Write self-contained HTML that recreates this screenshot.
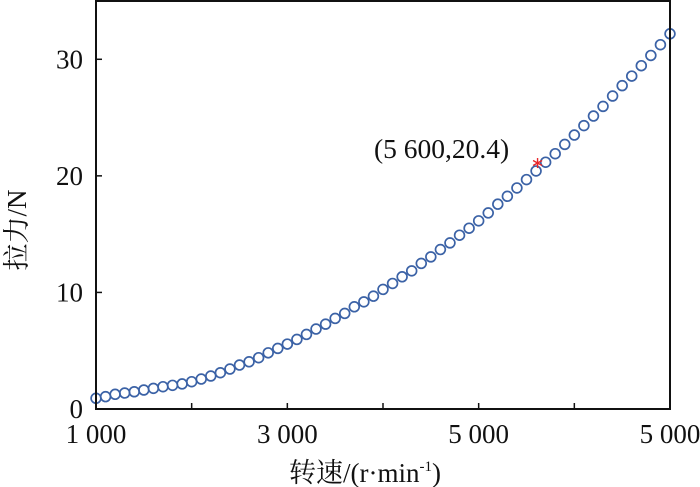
<!DOCTYPE html>
<html><head><meta charset="utf-8"><style>
body{margin:0;background:#fff}
svg{display:block}
text{font-family:"Liberation Serif","Noto Serif CJK SC",serif;fill:#111}
</style></head><body>
<svg id="chart" width="700" height="487" viewBox="0 0 700 487" xmlns="http://www.w3.org/2000/svg">
<g id="ticks"></g>
<g id="marks"></g>
<rect x="96" y="1" width="574" height="408" fill="none" stroke="#111" stroke-width="2"/>
<text x="374" y="158" font-size="27.5">(5 600,20.4)</text>
<text x="365" y="482" font-size="27" text-anchor="middle">转速/(r·min<tspan font-size="15" dy="-11">-1</tspan><tspan dy="11">)</tspan></text>
<text transform="translate(26,230) rotate(-90)" font-size="27" text-anchor="middle">拉力/N</text>
</svg>
<script>
const speeds=[1000,1100,1200,1300,1400,1500,1600,1700,1800,1900,2000,2100,2200,2300,2400,2500,2600,2700,2800,2900,3000,3100,3200,3300,3400,3500,3600,3700,3800,3900,4000,4100,4200,4300,4400,4500,4600,4700,4800,4900,5000,5100,5200,5300,5400,5500,5600,5700,5800,5900,6000,6100,6200,6300,6400,6500,6600,6700,6800,6900,7000];
const forces=[0.92,1.06,1.26,1.37,1.48,1.63,1.77,1.91,2.03,2.15,2.34,2.57,2.83,3.11,3.43,3.77,4.05,4.40,4.82,5.20,5.57,5.97,6.40,6.86,7.28,7.77,8.20,8.77,9.19,9.68,10.26,10.77,11.34,11.85,12.49,13.05,13.68,14.25,14.91,15.51,16.14,16.82,17.57,18.25,18.96,19.68,20.42,21.17,21.90,22.70,23.50,24.31,25.13,25.96,26.85,27.74,28.56,29.45,30.33,31.25,32.19];
const highlightX=[5600];
const highlightY=[21.1];
const xTicks=[1000,2000,3000,4000,5000,6000,7000];
const xTickLabels={1000:"1 000",3000:"3 000",5000:"5 000",7000:"5 000"};
const yTicks=[0,10,20,30];
const yTickLabels=["0","10","20","30"];
const NS="http://www.w3.org/2000/svg";
const X0=96,X1=670,Y0=409,Y1=1;
function sx(v){return X0+(v-1000)/6000*(X1-X0);}
function sy(v){return Y0-v*(Y0-Y1)/35;}
function mk(tag,attrs,parent){const e=document.createElementNS(NS,tag);for(const k in attrs)e.setAttribute(k,attrs[k]);parent.appendChild(e);return e;}
const tg=document.getElementById('ticks'),mg=document.getElementById('marks');
xTicks.forEach(t=>{
  const l=mk('line',{x1:sx(t),x2:sx(t),y1:Y0,y2:Y0-6,stroke:'#111','stroke-width':1.5},tg);
  
  
  if(xTickLabels[t]){
    const tx=mk('text',{x:sx(t),y:443,'font-size':27,'text-anchor':'middle'},tg);
    tx.textContent=xTickLabels[t];
    
    
  }
});
yTicks.forEach((t,i)=>{
  const l=mk('line',{x1:X0,x2:X0+6,y1:sy(t),y2:sy(t),stroke:'#111','stroke-width':1.5},tg);
  
  
  const tx=mk('text',{x:83,y:sy(t)+9,'font-size':27,'text-anchor':'end'},tg);
  tx.textContent=yTickLabels[i];
  
  
});
speeds.forEach((s,i)=>{
  const c=mk('circle',{cx:sx(s),cy:sy(forces[i]),r:4.9,fill:'none',stroke:'#3b62a6','stroke-width':1.7},mg);
  
  
});
highlightX.forEach((s,i)=>{
  const cx=sx(s)+1.5,cy=sy(highlightY[i]);
  const g=mk('g',{stroke:'#e8262a','stroke-width':1.4},mg);
  
  
  mk('line',{x1:cx,y1:cy-5,x2:cx,y2:cy+5},g);
  mk('line',{x1:cx-4.5,y1:cy-2.5,x2:cx+4.5,y2:cy+2.5},g);
  mk('line',{x1:cx-4.5,y1:cy+2.5,x2:cx+4.5,y2:cy-2.5},g);
});
</script>
</body></html>
